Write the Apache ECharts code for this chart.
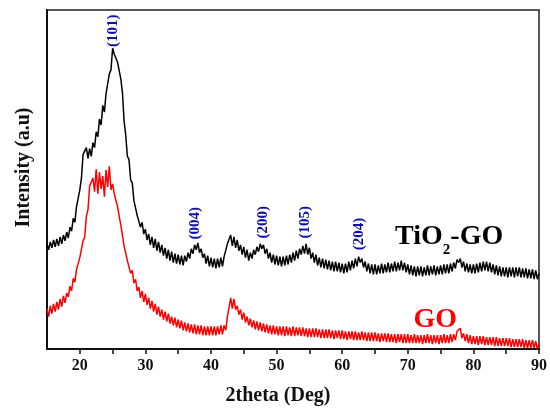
<!DOCTYPE html>
<html>
<head>
<meta charset="utf-8">
<script src="https://cdn.jsdelivr.net/npm/echarts@6/dist/echarts.min.js"></script>
<style>
  html, body { margin: 0; padding: 0; background: #fff; }
  #chart { width: 550px; height: 411px; }
</style>
</head>
<body>
<div id="chart"></div>
<script>
  // 2theta sampling grid: 15 .. 90 deg, every 0.25 deg
  const thetaStart = 15
  const thetaStep = 0.25

  // TiO2-GO intensity (a.u.), one row per 5 deg
  const tio2go = [
    107, 101, 109, 103, 111, 104, 112, 105, 114, 107, 116, 110, 119, 113, 124, 120, 133, 129, 145, 146,
    162, 174, 198, 196, 205, 194, 204, 196, 210, 205, 221, 216, 234, 228, 248, 241, 260, 262, 280, 284,
    306, 300, 299, 292, 291, 275, 261, 232, 218, 196, 193, 172, 169, 151, 152, 136, 137, 124, 129, 117,
    122, 111, 117, 106, 114, 103, 112, 100, 109, 98, 106, 95, 103, 92, 101, 90, 99, 88, 97, 87,
    96, 86, 95, 85, 95, 89, 98, 92, 102, 97, 106, 101, 108, 98, 102, 93, 97, 87, 95, 84,
    93, 83, 92, 82, 92, 83, 93, 84, 94, 93, 107, 106, 116, 105, 114, 103, 111, 100, 106, 96,
    104, 93, 101, 90, 98, 92, 101, 96, 104, 99, 107, 102, 106, 97, 102, 92, 98, 88, 96, 86,
    95, 85, 94, 84, 94, 85, 95, 86, 96, 88, 98, 90, 100, 92, 102, 96, 105, 97, 107, 96,
    103, 92, 98, 88, 96, 85, 93, 83, 92, 82, 91, 81, 90, 80, 89, 79, 89, 79, 88, 78,
    87, 77, 87, 78, 89, 80, 90, 82, 92, 84, 94, 88, 92, 83, 89, 79, 87, 77, 86, 76,
    86, 76, 85, 77, 87, 77, 86, 78, 88, 78, 87, 79, 89, 79, 88, 80, 90, 80, 88, 78,
    86, 76, 85, 75, 84, 74, 84, 75, 84, 74, 83, 75, 85, 75, 84, 76, 85, 75, 84, 76,
    85, 76, 86, 77, 86, 77, 87, 79, 88, 82, 91, 88, 92, 83, 89, 79, 87, 78, 86, 77,
    86, 77, 87, 78, 88, 79, 89, 80, 89, 79, 88, 78, 86, 76, 85, 75, 84, 74, 83, 74,
    83, 73, 83, 74, 83, 73, 83, 74, 83, 73, 82, 73, 82, 72, 81, 72, 81, 71, 80, 71,
    77
  ]

  // GO intensity (a.u.)
  const go = [
    41, 33, 44, 36, 46, 38, 48, 40, 51, 43, 54, 47, 57, 53, 64, 59, 72, 68, 81, 79,
    93, 94, 110, 114, 135, 142, 166, 170, 174, 160, 183, 158, 180, 163, 176, 155, 182, 165, 186, 162,
    168, 158, 160, 145, 147, 126, 124, 105, 106, 90, 92, 77, 80, 67, 71, 59, 63, 52, 59, 48,
    56, 45, 52, 41, 49, 38, 46, 35, 43, 33, 40, 30, 38, 28, 36, 26, 33, 24, 32, 22,
    30, 21, 29, 19, 27, 18, 26, 17, 25, 16, 25, 15, 24, 15, 24, 14, 23, 14, 23, 14,
    23, 14, 23, 14, 23, 15, 24, 15, 24, 19, 33, 42, 52, 41, 51, 40, 44, 35, 40, 30,
    37, 27, 33, 24, 31, 22, 29, 20, 28, 19, 27, 18, 26, 17, 25, 16, 24, 15, 24, 15,
    23, 14, 23, 14, 23, 13, 23, 14, 22, 13, 23, 13, 22, 14, 22, 13, 22, 13, 21, 12,
    21, 12, 21, 12, 21, 12, 20, 11, 20, 11, 20, 11, 20, 11, 19, 10, 19, 11, 19, 10,
    19, 10, 18, 9, 18, 10, 18, 9, 18, 9, 17, 9, 18, 9, 17, 8, 17, 8, 17, 8,
    17, 8, 16, 7, 16, 8, 16, 7, 16, 7, 15, 7, 15, 6, 15, 7, 15, 6, 15, 6,
    15, 6, 14, 6, 15, 6, 14, 6, 14, 5, 14, 6, 15, 6, 14, 5, 14, 6, 14, 5,
    14, 6, 15, 6, 14, 6, 15, 7, 15, 9, 18, 17, 21, 11, 16, 8, 15, 6, 14, 5,
    13, 5, 13, 4, 13, 5, 13, 4, 12, 4, 12, 4, 12, 3, 12, 3, 11, 3, 11, 3,
    11, 3, 11, 2, 10, 2, 10, 2, 10, 2, 10, 1, 9, 1, 9, 1, 9, 1, 8, 0,
    5
  ]

  const xTicks = [20, 25, 30, 35, 40, 45, 50, 55, 60, 65, 70, 75, 80, 85, 90]
  const xLabels = [20, 30, 40, 50, 60, 70, 80, 90]

  // peak annotations (hkl), placed at 2theta / intensity
  const peakNames = ['(101)', '(004)', '(200)', '(105)', '(204)']
  const peakTheta = [25.1, 37.6, 47.9, 54.3, 62.6]
  const peakLabelY = [324, 128, 129, 129, 117]

  const serif = '"Liberation Serif", "Times New Roman", serif'

  const withTheta = arr => arr.map((v, i) => [thetaStart + i * thetaStep, v])

  const chart = echarts.init(document.getElementById('chart'))
  const options = {
    animation: false,
    grid: { left: 47, right: 10, top: 10, bottom: 56, show: true, borderColor: '#222', borderWidth: 1.5 },
    xAxis: {
      type: 'value',
      min: 15,
      max: 90,
      name: '2theta (Deg)',
      nameLocation: 'middle',
      nameGap: 37,
      nameTextStyle: { fontFamily: serif, fontWeight: 'bold', fontSize: 20, color: '#111', padding: [0, 30, 0, 0] },
      axisLine: { lineStyle: { color: '#111', width: 2 } },
      axisTick: { show: true, inside: false, length: 5, customValues: xTicks, lineStyle: { color: '#111', width: 1.5 } },
      axisLabel: { customValues: xLabels, fontFamily: serif, fontWeight: 'bold', fontSize: 16, color: '#111', margin: 9 },
      splitLine: { show: false },
    },
    yAxis: {
      type: 'value',
      min: 0,
      max: 345,
      name: 'Intensity (a.u)',
      nameLocation: 'middle',
      nameGap: 13,
      nameTextStyle: { fontFamily: serif, fontWeight: 'bold', fontSize: 20, color: '#111', padding: [0, 0, 0, 24] },
      axisLine: { show: true, lineStyle: { color: '#111', width: 2 } },
      axisTick: { show: false },
      axisLabel: { show: false },
      splitLine: { show: false },
    },
    series: [
      {
        name: 'TiO2-GO',
        type: 'line',
        data: withTheta(tio2go),
        symbol: 'none',
        lineStyle: { color: '#000', width: 1.5 },
      },
      {
        name: 'GO',
        type: 'line',
        data: withTheta(go),
        symbol: 'none',
        lineStyle: { color: '#f00', width: 1.5 },
      },
      {
        type: 'scatter',
        symbolSize: 0,
        silent: true,
        itemStyle: { opacity: 1 },
        data: peakNames.map((n, i) => ({ name: n, value: [peakTheta[i], peakLabelY[i]] })),
        label: {
          show: true,
          position: 'inside',
          rotate: 90,
          formatter: '{b}',
          fontFamily: serif,
          fontWeight: 'bold',
          fontSize: 15,
          color: '#0e0ea8',
          textBorderWidth: 0,
        },
      },
      {
        type: 'scatter',
        symbolSize: 0,
        silent: true,
        itemStyle: { opacity: 1 },
        data: [
          { name: 'TiO2-GO', value: [76.3, 107], label: { formatter: '{a|TiO}{s|2}{a|-GO}' } },
          { name: 'GO', value: [74.2, 30], label: { formatter: '{r|GO}' } },
        ],
        label: {
          show: true,
          position: 'inside',
          textBorderWidth: 0,
          rich: {
            a: { fontFamily: serif, fontWeight: 'bold', fontSize: 28, lineHeight: 28, color: '#000', verticalAlign: 'bottom', padding: [0, 0, 7, 0], textBorderWidth: 0 },
            s: { fontFamily: serif, fontWeight: 'bold', fontSize: 15, lineHeight: 12, color: '#000', verticalAlign: 'bottom', textBorderWidth: 0 },
            r: { fontFamily: serif, fontWeight: 'bold', fontSize: 28, color: '#f00', textBorderWidth: 0 },
          },
        },
      },
    ],
  }
  chart.setOption(options)
</script>
</body>
</html>
